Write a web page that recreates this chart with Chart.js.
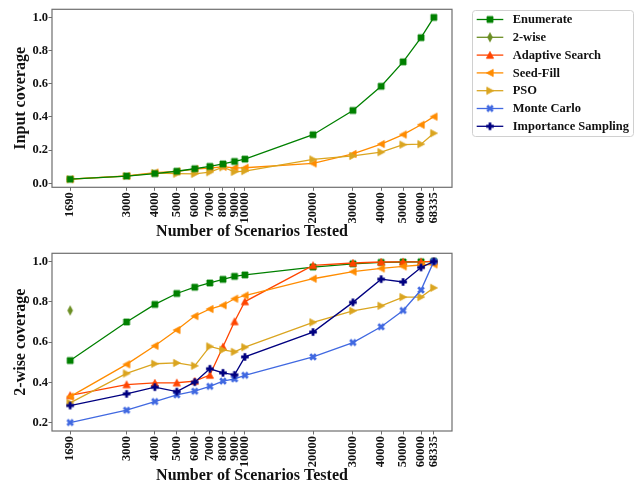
<!DOCTYPE html>
<html><head><meta charset="utf-8">
<script src="https://cdn.jsdelivr.net/npm/chart.js@4/dist/chart.umd.min.js"></script>
<style>
html,body{margin:0;padding:0;background:#fff;}
#wrap{position:relative;width:640px;height:487px;overflow:hidden;background:#fff;}
#c1{position:absolute;left:0;top:0;}
#c2{position:absolute;left:0;top:240px;}
</style></head><body>
<div id="wrap"><canvas id="c1" width="640" height="240"></canvas><canvas id="c2" width="640" height="247"></canvas></div>
<script>
// ---------- data ----------
const scenarios = [1690,3000,4000,5000,6000,7000,8000,9000,10000,20000,30000,40000,50000,60000,68335];
const seriesNames = ['Enumerate','2-wise','Adaptive Search','Seed-Fill','PSO','Monte Carlo','Importance Sampling'];
const seriesColors = ['#008000','#6B8E23','#FF4500','#FF8C00','#DAA520','#4169E1','#000080'];
const seriesMarkers = ['square','thin-diamond','tri-up','tri-left','tri-right','x-filled','plus-filled'];

// Input coverage (top panel)
const inputEnumerate = [0.025,0.044,0.059,0.073,0.088,0.102,0.117,0.132,0.146,0.293,0.439,0.585,0.732,0.878,1.0];
const inputSeedFill  = [0.025,0.045,0.065,0.072,0.086,0.092,0.100,0.093,0.094,0.120,0.177,0.237,0.294,0.353,0.402];
const inputPSO       = [0.025,0.044,0.062,0.058,0.057,0.067,0.097,0.069,0.074,0.144,0.165,0.188,0.233,0.236,0.302];

// 2-wise coverage (bottom panel)
const pairEnumerate  = [0.509,0.700,0.787,0.841,0.872,0.893,0.911,0.926,0.933,0.972,0.988,0.995,0.997,0.998,1.0];
const twoWiseScenarios = [1690];
const pairTwoWise    = [0.757];
const pairAdaptive   = [0.336,0.390,0.398,0.399,0.407,0.437,0.577,0.702,0.801,0.980,0.992,0.997,0.998,0.998,1.0];
const pairSeedFill   = [0.330,0.490,0.582,0.660,0.729,0.764,0.783,0.815,0.831,0.914,0.949,0.965,0.975,0.982,0.985];
const pairPSO        = [0.299,0.445,0.493,0.497,0.483,0.579,0.562,0.552,0.575,0.698,0.755,0.780,0.823,0.823,0.869];
const pairMonteCarlo = [0.202,0.263,0.306,0.339,0.357,0.381,0.407,0.418,0.436,0.527,0.598,0.676,0.757,0.858,1.0];
const pairImportance = [0.286,0.344,0.377,0.355,0.402,0.468,0.448,0.438,0.527,0.650,0.797,0.912,0.898,0.970,1.0];

const yTicksTop = [0.0,0.2,0.4,0.6,0.8,1.0];
const yTicksBottom = [0.2,0.4,0.6,0.8,1.0];

// ---------- styling ----------
const SERIF = '"Liberation Serif","Times New Roman",Times,serif';
const FRAME = '#6e6e6e';

function marker(kind, color) {
  const S = 14; const c = document.createElement('canvas'); c.width = S; c.height = S;
  const g = c.getContext('2d'); g.translate(S/2, S/2);
  g.fillStyle = color; g.strokeStyle = color; g.lineWidth = 0.8;
  g.beginPath();
  switch (kind) {
    case 'square': g.rect(-3,-3,6,6); break;
    case 'tri-up': g.moveTo(0,-3.6); g.lineTo(3.6,3.2); g.lineTo(-3.6,3.2); g.closePath(); break;
    case 'tri-left': g.moveTo(-3.6,0); g.lineTo(3.2,-3.6); g.lineTo(3.2,3.6); g.closePath(); break;
    case 'tri-right': g.moveTo(3.6,0); g.lineTo(-3.2,-3.6); g.lineTo(-3.2,3.6); g.closePath(); break;
    case 'thin-diamond': g.moveTo(0,-4.5); g.lineTo(2.4,0); g.lineTo(0,4.5); g.lineTo(-2.4,0); g.closePath(); break;
    case 'x-filled': g.rotate(Math.PI/4); g.rect(-4,-1.4,8,2.8); g.rect(-1.4,-4,2.8,8); break;
    case 'plus-filled': g.rect(-3.8,-1.4,7.6,2.8); g.rect(-1.4,-3.8,2.8,7.6); break;
  }
  g.fill();
  if (kind !== 'x-filled' && kind !== 'plus-filled') g.stroke();
  return c;
}
const markerImgs = seriesMarkers.map((m,i) => marker(m, seriesColors[i]));

function ds(idx, xs, ys, order) {
  return {
    label: seriesNames[idx],
    data: xs.map((x,i) => ({x: x, y: ys[i]})),
    borderColor: seriesColors[idx],
    backgroundColor: seriesColors[idx],
    borderWidth: 1.3,
    pointStyle: markerImgs[idx],
    pointRadius: 4, pointHoverRadius: 4,
    tension: 0, fill: false, order: order
  };
}

const framePlugin = {
  id: 'frame',
  afterDatasetsDraw(chart) {
    const a = chart.chartArea, ctx = chart.ctx;
    ctx.save(); ctx.strokeStyle = FRAME; ctx.lineWidth = 1.2;
    ctx.strokeRect(a.left, a.top, a.right - a.left, a.bottom - a.top);
    ctx.restore();
  }
};

const legendPlugin = {
  id: 'sideLegend',
  afterDraw(chart) {
    const ctx = chart.ctx;
    ctx.save();
    const bx = 472.5, by = 10.5, bw = 161, bh = 126, r = 3;
    ctx.beginPath();
    ctx.moveTo(bx + r, by); ctx.lineTo(bx + bw - r, by); ctx.arcTo(bx + bw, by, bx + bw, by + r, r);
    ctx.lineTo(bx + bw, by + bh - r); ctx.arcTo(bx + bw, by + bh, bx + bw - r, by + bh, r);
    ctx.lineTo(bx + r, by + bh); ctx.arcTo(bx, by + bh, bx, by + bh - r, r);
    ctx.lineTo(bx, by + r); ctx.arcTo(bx, by, bx + r, by, r); ctx.closePath();
    ctx.fillStyle = '#fff'; ctx.fill();
    ctx.strokeStyle = '#d0d0d0'; ctx.lineWidth = 1; ctx.stroke();
    ctx.font = 'bold 12.5px ' + SERIF; ctx.textBaseline = 'middle'; ctx.textAlign = 'left';
    seriesNames.forEach((name, i) => {
      const y = 19.5 + i * 17.8;
      ctx.strokeStyle = seriesColors[i]; ctx.lineWidth = 1.3;
      ctx.beginPath(); ctx.moveTo(476.7, y); ctx.lineTo(503.3, y); ctx.stroke();
      const img = markerImgs[i];
      ctx.drawImage(img, 490 - img.width/2, y - img.height/2);
      ctx.fillStyle = '#111'; ctx.fillText(name, 512.7, y + 0.5);
    });
    ctx.restore();
  }
};

function options(yMin, yMax, yTicks, yTitle, areaTop, areaBottom, canvasH, xTitlePadBottom, xTitleLH) {
  const tickFont = {family: SERIF, weight: 'bold', size: 12.5};
  return {
    responsive: false, animation: false, devicePixelRatio: 1,
    layout: {padding: {left: 0, right: 188, top: areaTop, bottom: 0}},
    plugins: {legend: {display: false}, tooltip: {enabled: false}, title: {display: false}},
    events: [],
    scales: {
      x: {
        type: 'logarithmic', min: 1405, max: 82220, bounds: 'data',
        afterBuildTicks: s => { s.ticks = scenarios.map(v => ({value: v})); },
        afterFit: s => { s.height = canvasH - areaBottom; },
        grid: {display: true, drawOnChartArea: false, drawTicks: true, tickLength: 3.5, tickWidth: 1, tickColor: FRAME, color: FRAME},
        border: {display: false},
        ticks: {autoSkip: false, minRotation: 90, maxRotation: 90, padding: 1.5, color: '#111', font: tickFont,
                callback: v => String(v)},
        title: {display: true, text: 'Number of Scenarios Tested', color: '#111',
                font: {family: SERIF, weight: 'bold', size: 16, lineHeight: xTitleLH}, padding: {top: 0, bottom: xTitlePadBottom}}
      },
      y: {
        type: 'linear', min: yMin, max: yMax, bounds: 'data',
        afterBuildTicks: s => { s.ticks = yTicks.map(v => ({value: v})); },
        afterFit: s => { s.width = 52; },
        grid: {display: true, drawOnChartArea: false, drawTicks: true, tickLength: 3.5, tickWidth: 1, tickColor: FRAME, color: FRAME},
        border: {display: false},
        ticks: {padding: 0.5, color: '#111', font: tickFont, callback: v => Number(v).toFixed(1)},
        title: {display: true, text: yTitle, color: '#111',
                font: {family: SERIF, weight: 'bold', size: 16, lineHeight: 1.2}, padding: {top: 11, bottom: 0}}
      }
    }
  };
}

new Chart(document.getElementById('c1'), {
  type: 'line',
  data: {datasets: [
    ds(0, scenarios, inputEnumerate, 1),
    ds(3, scenarios, inputSeedFill, 3),
    ds(4, scenarios, inputPSO, 2)
  ]},
  options: options(-0.0238, 1.0488, yTicksTop, 'Input coverage', 9.3, 187.3, 240, 0, 1.0),
  plugins: [framePlugin, legendPlugin]
});

new Chart(document.getElementById('c2'), {
  type: 'line',
  data: {datasets: [
    ds(0, scenarios, pairEnumerate, 7),
    ds(1, twoWiseScenarios, pairTwoWise, 6),
    ds(2, scenarios, pairAdaptive, 5),
    ds(3, scenarios, pairSeedFill, 4),
    ds(4, scenarios, pairPSO, 3),
    ds(5, scenarios, pairMonteCarlo, 2),
    ds(6, scenarios, pairImportance, 1)
  ]},
  options: options(0.16, 1.04, yTicksBottom, '2-wise coverage', 13.3, 191, 247, 2, 1.2),
  plugins: [framePlugin]
});
</script>
</body></html>
